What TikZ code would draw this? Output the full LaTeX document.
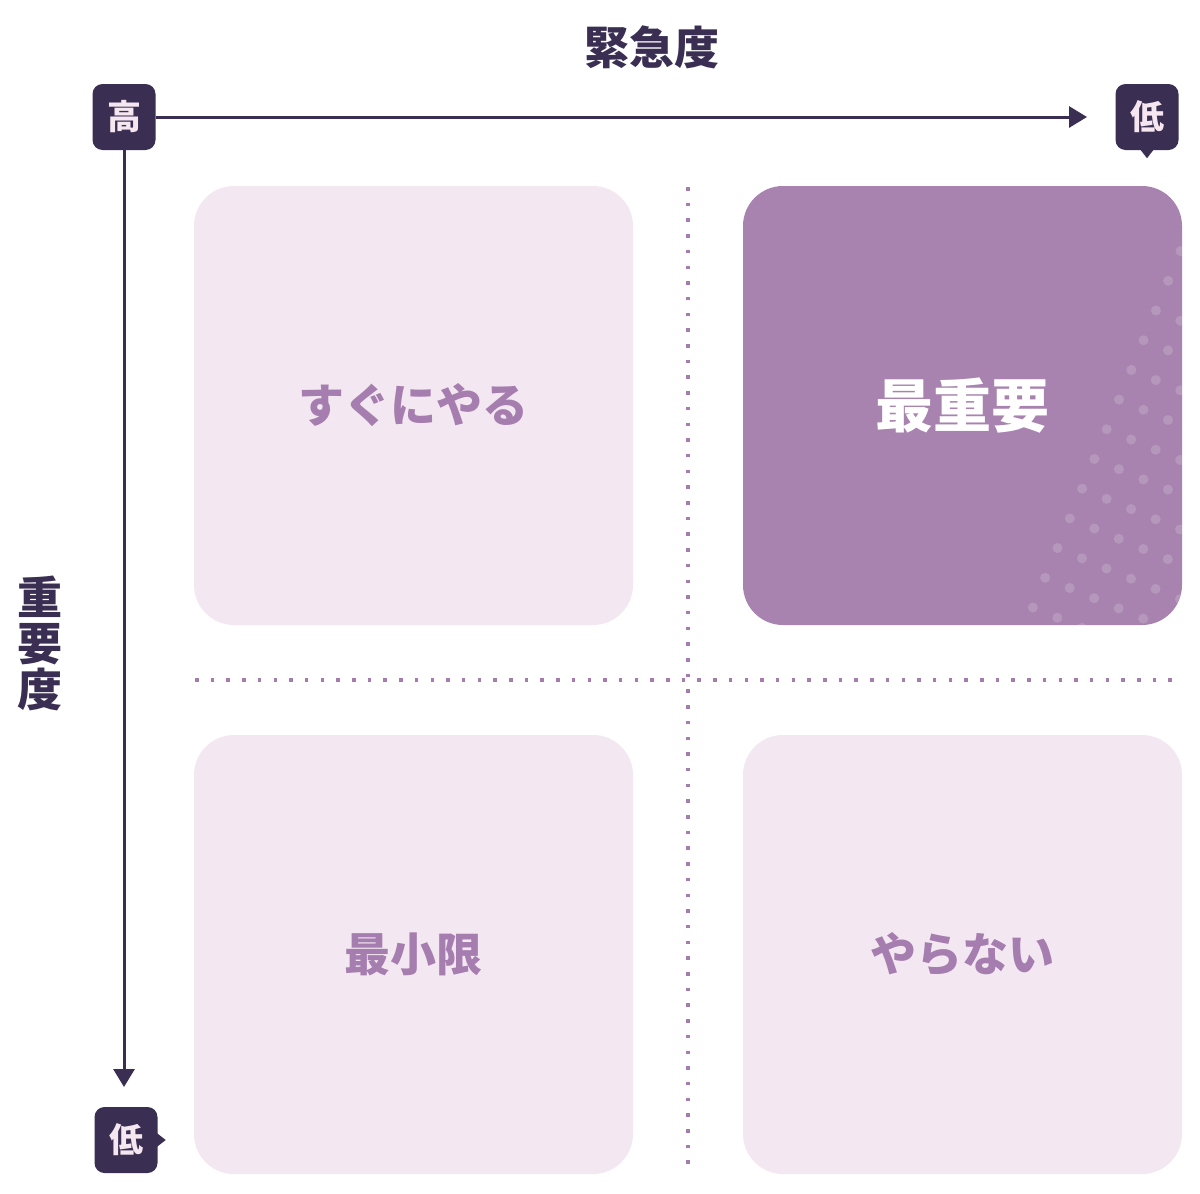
\documentclass[tikz,border=0pt]{standalone}
\usepackage{fontspec}
\newfontfamily\jp{Noto Sans CJK JP}
\usetikzlibrary{arrows.meta,calc}
\definecolor{navy}{HTML}{3A2F53}
\definecolor{paleq}{HTML}{F3E8F1}
\definecolor{boldq}{HTML}{A883AF}
\definecolor{qtext}{HTML}{A67DAF}
\definecolor{badgetext}{HTML}{F5E6F0}
\definecolor{dotc}{HTML}{A67CB0}
\begin{document}
\begin{tikzpicture}[x=1pt,y=-1pt,
  badge/.style={fill=navy, rounded corners=10pt, minimum width=63pt, minimum height=66pt, inner sep=0pt,
    text=badgetext, font=\jp\bfseries\fontsize{34}{34}\selectfont},
  quad/.style={fill=paleq, rounded corners=40pt, minimum width=439pt, minimum height=439pt, inner sep=0pt,
    text=qtext, font=\jp\bfseries\fontsize{46}{46}\selectfont},
  axislabel/.style={text=navy, font=\jp\bfseries\fontsize{45}{46}\selectfont, inner sep=0pt, align=center},
  axisarrow/.style={draw=navy, line width=3pt, -{Triangle[length=18pt,width=21pt]}},
  dotline/.style={draw=dotc, line width=3.5pt, dash pattern=on 3.5pt off 12.2pt},
]
\useasboundingbox (0,0) rectangle (1200,1194);
\fill[white] (0,0) rectangle (1200,1194);

% dotted dividers
\coordinate (vtop) at (688,187);
\coordinate (vbot) at (688,1176);
\coordinate (hleft) at (195,680);
\coordinate (hright) at (1184,680);
\draw[dotline] (vtop) -- (vbot);
\draw[dotline] (hleft) -- (hright);

% quadrants
\node[quad] (q1) at (413.5,405.5) {すぐにやる};
\node[quad, fill=boldq] (q2) at (962.5,405.5) {};
\node[quad] (q3) at (413.5,954.5) {最小限};
\node[quad] (q4) at (962.5,954.5) {やらない};

% dot pattern on the bold quadrant
\begin{scope}
  \clip[rounded corners=40pt] (743,186) rectangle (1182,625);
  \foreach \i in {0,...,7}{
    \foreach \j in {-7,...,7}{
      \fill[white, opacity=0.17] (1106.7+24.5*\i-12.3*\j, 429.3+10.2*\i+29.7*\j) circle (5pt);
    }
  }
\end{scope}
\node[text=white, font=\jp\bfseries\fontsize{58}{58}\selectfont, inner sep=0pt] (q2t) at (q2.center) {最重要};

% axis labels
\node[axislabel] (ttl) at (652,47) {緊急度};
\node[axislabel] (vlab) at (40,643) {重\\要\\度};

% badges
\node[badge] (hi) at (124,117) {高};
\node[badge] (lo1) at (1147,117) {低};
\node[badge] (lo2) at (126,1140) {低};
\fill[navy] ($(lo1.south)+(-7,-1)$) -- ($(lo1.south)+(7,-1)$) -- ($(lo1.south)+(0,8)$) -- cycle;
\fill[navy] ($(lo2.east)+(-1,-7)$) -- ($(lo2.east)+(-1,7)$) -- ($(lo2.east)+(8,0)$) -- cycle;

% axes
\coordinate (xend) at (1087,117);
\coordinate (yend) at (124,1087);
\draw[axisarrow] (hi.east) -- (xend);
\draw[axisarrow] (hi.south) -- (yend);
\end{tikzpicture}
\end{document}
